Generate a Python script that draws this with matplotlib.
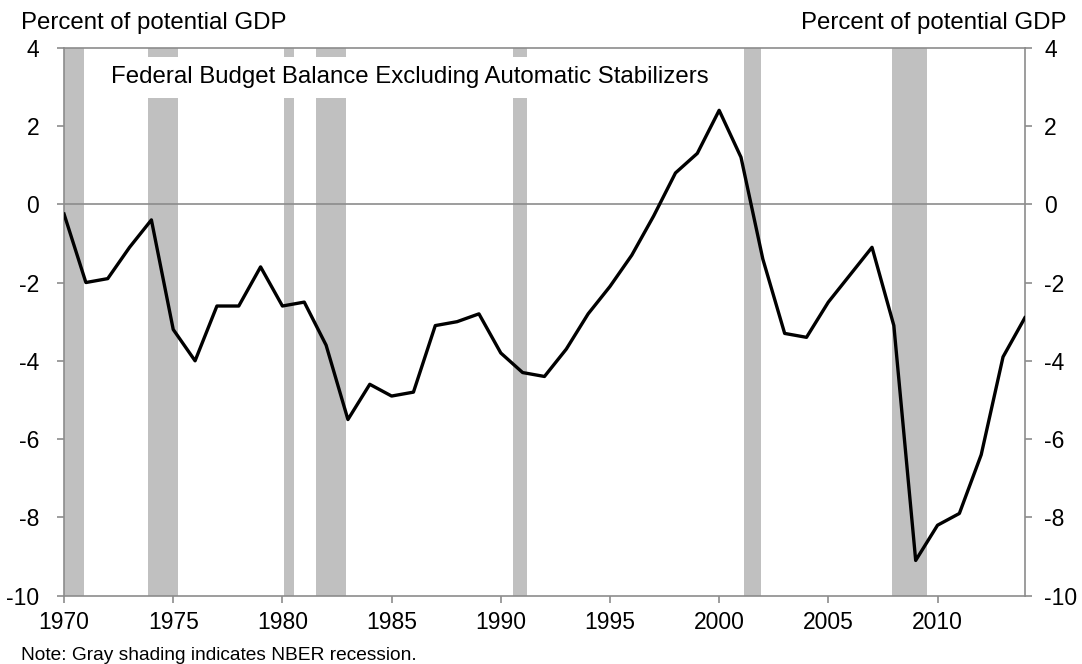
import matplotlib
matplotlib.use('Agg')
import matplotlib.pyplot as plt
import numpy as np

plt.rcParams['font.family'] = ['Liberation Sans', 'DejaVu Sans']
plt.rcParams['axes.unicode_minus'] = False

years = list(range(1970, 2015))
balance = [-0.25, -2.0, -1.9, -1.1, -0.4, -3.2, -4.0, -2.6, -2.6, -1.6,
           -2.6, -2.5, -3.6, -5.5, -4.6, -4.9, -4.8, -3.1, -3.0, -2.8,
           -3.8, -4.3, -4.4, -3.7, -2.8, -2.1, -1.3, -0.3, 0.8, 1.3,
           2.4, 1.2, -1.4, -3.3, -3.4, -2.5, -1.8, -1.1, -3.1, -9.1,
           -8.2, -7.9, -6.4, -3.9, -2.9]

# NBER recessions (start, end) in fractional years
recessions = [(1969.95, 1970.9), (1973.85, 1975.2), (1980.05, 1980.55),
              (1981.55, 1982.9), (1990.55, 1991.2), (2001.15, 2001.9),
              (2007.9, 2009.5)]

fig = plt.figure(figsize=(10.82, 6.64), dpi=100)
ax = fig.add_axes([0.0592, 0.1029, 0.888, 0.8253])

for s, e in recessions:
	ax.axvspan(s, e, color='#c0c0c0', lw=0, zorder=1)

ax.axhline(0, color='#8c8c8c', lw=1.2, zorder=2)
ax.plot(years, balance, color='black', lw=2.4, zorder=4)

ax.set_xlim(1970, 2014)
ax.set_ylim(-10, 4)
ax.set_xticks(np.arange(1970, 2015, 5))
ax.set_yticks(np.arange(-10, 5, 2))

for sp in ax.spines.values():
	sp.set_color('#8c8c8c')
	sp.set_linewidth(1.2)

ax.tick_params(axis='both', colors='#8c8c8c', labelcolor='black', labelsize=16.5,
               length=5, width=1.2, direction='out')
ax.tick_params(axis='y', pad=13)
ax.tick_params(axis='x', pad=6)

ax2 = ax.twinx()
ax2.set_ylim(-10, 4)
ax2.set_yticks(np.arange(-10, 5, 2))
for sp in ax2.spines.values():
	sp.set_visible(False)
ax2.tick_params(axis='y', colors='#8c8c8c', labelcolor='black', labelsize=16.5,
                length=5, width=1.2, direction='out', pad=9)

ax.text(1985.85, 3.24, 'Federal Budget Balance Excluding Automatic Stabilizers',
        ha='center', va='center', fontsize=17.3, zorder=5,
        bbox=dict(facecolor='white', edgecolor='none', pad=7))

fig.text(0.019, 0.957, 'Percent of potential GDP', fontsize=17.3, ha='left', va='baseline')
fig.text(0.986, 0.957, 'Percent of potential GDP', fontsize=17.3, ha='right', va='baseline')
fig.text(0.019, 0.006, 'Note: Gray shading indicates NBER recession.', fontsize=13.8,
         ha='left', va='baseline')

fig.savefig('out.png', dpi=100)
